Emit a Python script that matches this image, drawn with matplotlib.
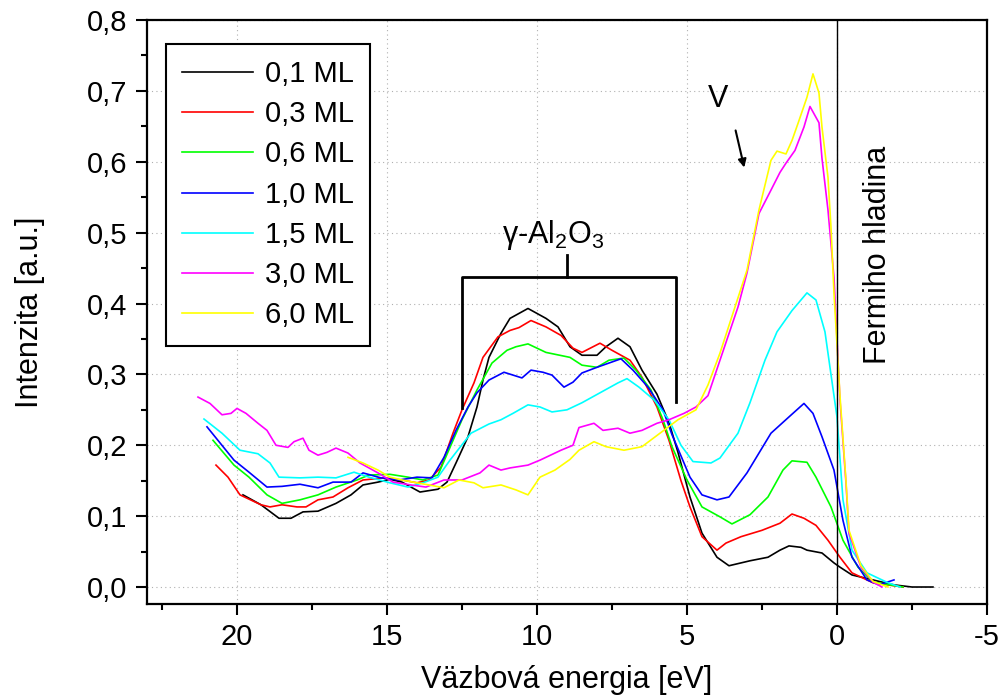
import matplotlib
matplotlib.use("Agg")
import matplotlib.pyplot as plt
from matplotlib.ticker import MultipleLocator, FuncFormatter

# ── Data ─────────────────────────────────────────────────────────────────────
labels = ["0,1 ML", "0,3 ML", "0,6 ML", "1,0 ML", "1,5 ML", "3,0 ML", "6,0 ML"]
colors = ["#000000", "#ff0000", "#00ff00", "#0000ff", "#00ffff", "#ff00ff", "#ffff00"]

e_01 = [19.8, 19.2, 18.6, 18.2, 17.8, 17.3, 16.7, 16.2, 15.8, 15.3,
        14.9, 14.5, 13.9, 13.3, 13.0, 12.7, 12.3, 12.0, 11.8, 11.6,
        11.2, 10.9, 10.3, 9.7, 9.3, 8.9, 8.5, 8.0, 7.7, 7.3,
        6.9, 6.5, 6.0, 5.6, 5.3, 4.9, 4.5, 4.0, 3.6, 2.9,
        2.3, 1.9, 1.6, 1.2, 1.0, 0.5, 0.1, -0.1, -0.5, -1.2,
        -1.9, -2.5, -3.2]
i_01 = [0.130, 0.116, 0.097, 0.097, 0.106, 0.107, 0.118, 0.130, 0.144, 0.148,
        0.152, 0.148, 0.134, 0.138, 0.148, 0.175, 0.212, 0.254, 0.292, 0.324,
        0.358, 0.379, 0.393, 0.379, 0.367, 0.339, 0.327, 0.327, 0.339, 0.351,
        0.339, 0.306, 0.272, 0.232, 0.190, 0.127, 0.076, 0.042, 0.030, 0.037,
        0.042, 0.052, 0.058, 0.056, 0.052, 0.048, 0.034, 0.028, 0.017, 0.010,
        0.003, 0.000, 0.000]

e_03 = [20.7, 20.3, 19.9, 19.2, 18.9, 18.5, 18.0, 17.7, 17.3, 16.8,
        16.3, 15.8, 15.1, 14.5, 14.0, 13.6, 13.2, 12.8, 12.5, 12.1,
        11.8, 11.3, 10.9, 10.6, 10.2, 9.7, 9.2, 8.8, 8.5, 7.9,
        7.5, 6.9, 6.5, 6.0, 5.6, 5.2, 4.9, 4.5, 4.0, 3.7,
        3.2, 2.5, 1.9, 1.5, 1.1, 0.7, 0.3, -0.1, -0.5, -1.2,
        -2.2]
i_03 = [0.172, 0.155, 0.130, 0.116, 0.113, 0.116, 0.113, 0.113, 0.123, 0.127,
        0.140, 0.151, 0.154, 0.151, 0.147, 0.151, 0.169, 0.217, 0.250, 0.288,
        0.324, 0.353, 0.362, 0.366, 0.376, 0.367, 0.355, 0.337, 0.331, 0.344,
        0.334, 0.320, 0.296, 0.254, 0.207, 0.150, 0.113, 0.071, 0.052, 0.062,
        0.071, 0.080, 0.090, 0.103, 0.097, 0.087, 0.066, 0.042, 0.020, 0.006,
        0.000]

e_06 = [20.8, 20.1, 19.6, 19.0, 18.5, 17.9, 17.3, 16.7, 16.0, 15.6,
        14.9, 14.3, 13.8, 13.3, 12.9, 12.5, 12.0, 11.5, 11.0, 10.7,
        10.3, 9.7, 8.9, 8.5, 8.0, 7.6, 7.1, 6.7, 6.2, 5.8,
        5.5, 5.0, 4.5, 3.9, 3.5, 2.9, 2.3, 1.8, 1.5, 1.0,
        0.7, 0.2, -0.2, -0.7, -1.2, -2.2]
i_06 = [0.207, 0.172, 0.155, 0.130, 0.118, 0.123, 0.130, 0.141, 0.151, 0.158,
        0.159, 0.155, 0.151, 0.158, 0.197, 0.236, 0.278, 0.316, 0.334, 0.339,
        0.343, 0.331, 0.324, 0.313, 0.310, 0.320, 0.323, 0.306, 0.278, 0.236,
        0.198, 0.151, 0.113, 0.099, 0.089, 0.102, 0.127, 0.165, 0.178, 0.176,
        0.155, 0.113, 0.066, 0.028, 0.007, 0.000]

e_10 = [21.0, 20.1, 19.6, 19.0, 18.5, 17.9, 17.3, 16.8, 16.2, 15.8,
        15.2, 14.6, 14.0, 13.5, 13.1, 12.7, 12.3, 12.0, 11.6, 11.1,
        10.8, 10.5, 10.2, 9.8, 9.5, 9.1, 8.8, 8.5, 8.0, 7.6,
        7.2, 6.8, 6.3, 5.8, 5.5, 4.9, 4.5, 4.0, 3.6, 3.0,
        2.2, 1.6, 1.1, 0.8, 0.5, 0.1, -0.2, -0.5, -1.0, -1.4,
        -1.9]
i_10 = [0.226, 0.179, 0.162, 0.141, 0.142, 0.145, 0.140, 0.148, 0.148, 0.161,
        0.154, 0.151, 0.155, 0.154, 0.183, 0.221, 0.254, 0.274, 0.292, 0.303,
        0.299, 0.295, 0.306, 0.303, 0.299, 0.282, 0.289, 0.302, 0.310, 0.316,
        0.322, 0.306, 0.282, 0.250, 0.215, 0.155, 0.130, 0.123, 0.127, 0.161,
        0.217, 0.240, 0.259, 0.245, 0.212, 0.165, 0.094, 0.042, 0.010, 0.003,
        0.010]

e_15 = [21.1, 20.5, 19.9, 19.3, 18.9, 18.6, 17.9, 17.3, 16.7, 16.1,
        15.6, 14.9, 14.3, 13.8, 13.3, 12.9, 12.2, 11.6, 11.2, 10.8,
        10.3, 9.9, 9.5, 9.0, 8.5, 7.9, 7.3, 7.0, 6.6, 6.1,
        5.6, 5.2, 4.8, 4.2, 3.9, 3.3, 2.9, 2.4, 2.0, 1.5,
        1.0, 0.7, 0.4, 0.2, 0.0, -0.2, -0.5, -1.0, -1.7, -2.1]
i_15 = [0.237, 0.217, 0.193, 0.188, 0.175, 0.155, 0.154, 0.155, 0.154, 0.162,
        0.155, 0.147, 0.141, 0.147, 0.155, 0.179, 0.217, 0.230, 0.236, 0.245,
        0.257, 0.254, 0.247, 0.250, 0.260, 0.274, 0.288, 0.294, 0.282, 0.264,
        0.236, 0.200, 0.177, 0.175, 0.182, 0.217, 0.260, 0.320, 0.360, 0.390,
        0.415, 0.405, 0.360, 0.300, 0.240, 0.123, 0.052, 0.020, 0.006, 0.000]

e_30 = [21.3, 20.9, 20.5, 20.2, 20.0, 19.7, 19.3, 19.0, 18.7, 18.3,
        18.1, 17.8, 17.6, 17.3, 17.0, 16.7, 16.3, 15.9, 15.3, 14.8,
        14.2, 13.7, 13.1, 12.5, 11.9, 11.6, 11.2, 10.9, 10.3, 9.9,
        9.2, 8.8, 8.6, 8.1, 7.8, 7.3, 6.9, 6.5, 6.0, 5.6,
        5.1, 4.7, 4.3, 3.9, 3.3, 3.0, 2.6, 2.2, 1.9, 1.7,
        1.4, 1.1, 0.9, 0.6, 0.5, 0.3, 0.1, -0.1, -0.3, -0.4,
        -0.8, -1.2, -1.5]
i_30 = [0.268, 0.259, 0.243, 0.245, 0.252, 0.245, 0.231, 0.221, 0.200, 0.197,
        0.205, 0.210, 0.193, 0.186, 0.190, 0.196, 0.189, 0.175, 0.161, 0.148,
        0.144, 0.141, 0.151, 0.151, 0.161, 0.172, 0.165, 0.168, 0.172, 0.179,
        0.193, 0.200, 0.225, 0.231, 0.221, 0.224, 0.217, 0.221, 0.231, 0.236,
        0.245, 0.254, 0.270, 0.320, 0.395, 0.443, 0.527, 0.560, 0.585, 0.598,
        0.616, 0.649, 0.678, 0.655, 0.605, 0.532, 0.437, 0.264, 0.147, 0.076,
        0.028, 0.007, 0.000]

e_60 = [16.3, 15.8, 15.3, 14.9, 14.5, 14.0, 13.6, 13.1, 12.6, 12.1,
        11.8, 11.2, 10.7, 10.3, 9.9, 9.4, 8.9, 8.6, 8.1, 7.7,
        7.1, 6.5, 5.9, 5.3, 4.7, 4.3, 3.9, 3.4, 3.0, 2.6,
        2.2, 2.0, 1.7, 1.5, 1.3, 1.0, 0.8, 0.6, 0.5, 0.3,
        0.2, 0.1, -0.1, -0.3, -0.4, -0.8, -1.2, -1.7]
i_60 = [0.183, 0.175, 0.165, 0.155, 0.151, 0.147, 0.144, 0.140, 0.151, 0.147,
        0.140, 0.144, 0.137, 0.130, 0.155, 0.165, 0.180, 0.193, 0.205, 0.198,
        0.193, 0.198, 0.217, 0.236, 0.250, 0.285, 0.330, 0.395, 0.447, 0.532,
        0.602, 0.615, 0.611, 0.630, 0.654, 0.691, 0.724, 0.697, 0.649, 0.578,
        0.508, 0.415, 0.270, 0.150, 0.080, 0.030, 0.008, 0.000]

energies = [e_01, e_03, e_06, e_10, e_15, e_30, e_60]
intensities = [i_01, i_03, i_06, i_10, i_15, i_30, i_60]

# ── Style ────────────────────────────────────────────────────────────────────
plt.rcParams["font.family"] = ["Liberation Sans", "DejaVu Sans"]
plt.rcParams["mathtext.fontset"] = "custom"
plt.rcParams["mathtext.rm"] = "Liberation Sans"
plt.rcParams["axes.unicode_minus"] = False

fig = plt.figure(figsize=(10.02, 6.97), dpi=100)
ax = fig.add_axes([0.1467, 0.1334, 0.8383, 0.8379])

for e, i, lab, col in zip(energies, intensities, labels, colors):
    ax.plot(e, i, color=col, lw=1.2, label=lab)

ax.axvline(0, color="black", lw=1.0)

ax.set_xlim(23, -5)
ax.set_ylim(-0.024, 0.8)
ax.xaxis.set_major_locator(MultipleLocator(5))
ax.xaxis.set_minor_locator(MultipleLocator(2.5))
ax.yaxis.set_major_locator(MultipleLocator(0.1))
ax.yaxis.set_minor_locator(MultipleLocator(0.05))
ax.yaxis.set_major_formatter(FuncFormatter(lambda v, p: f"{v:.1f}".replace(".", ",")))
ax.xaxis.set_major_formatter(FuncFormatter(lambda v, p: f"{v:g}"))

ax.grid(True, which="major", color="#b0b0b0", ls=(0, (1, 3)), lw=0.8)
ax.set_axisbelow(True)

for s in ax.spines.values():
    s.set_linewidth(1.6)
ax.tick_params(which="major", direction="out", length=8, width=1.5, labelsize=21, pad=6)
ax.tick_params(which="minor", direction="out", length=4, width=1.5)

ax.set_xlabel("Väzbová energia [eV]", fontsize=22, labelpad=10)
ax.set_ylabel("Intenzita [a.u.]", fontsize=22, labelpad=30)

leg = ax.legend(loc="upper left", bbox_to_anchor=(0.0226, 0.959), borderaxespad=0,
                fontsize=21, handlelength=2.45, labelspacing=0.42, fancybox=False,
                framealpha=1, edgecolor="black", borderpad=0.55, handletextpad=0.4)
leg.get_frame().set_linewidth(1.5)

# ── Annotations ──────────────────────────────────────────────────────────────
ax.plot([12.5, 12.5, 5.37, 5.37], [0.252, 0.437, 0.437, 0.261], color="black", lw=2)
ax.plot([9.0, 9.0], [0.437, 0.468], color="black", lw=2)
ax.text(9.47, 0.496, "γ-Al$_\\mathregular{2}$O$_\\mathregular{3}$", fontsize=22,
        ha="center", va="center")

ax.text(3.97, 0.688, "V", fontsize=22, ha="center", va="center")
ax.annotate("", xy=(3.07, 0.588), xytext=(3.4, 0.648),
            arrowprops=dict(arrowstyle="-|>", color="black", lw=1.5, mutation_scale=12))

ax.text(-1.37, 0.468, "Fermiho hladina", fontsize=22, rotation=90,
        ha="center", va="center")

plt.savefig("out.png", dpi=100)
